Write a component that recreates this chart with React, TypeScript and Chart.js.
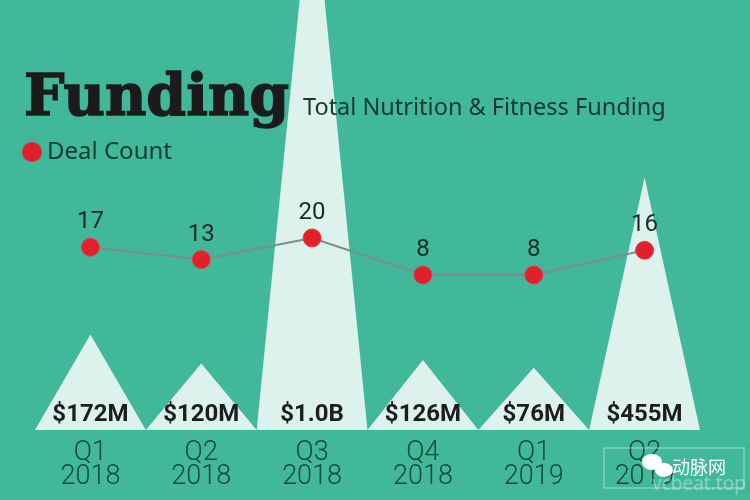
import React, { useEffect, useRef } from "react";
import { Chart, registerables } from "chart.js";

Chart.register(...registerables);

// ---- data ----
const quarters = ["Q1", "Q2", "Q3", "Q4", "Q1", "Q2"];
const years = ["2018", "2018", "2018", "2018", "2019", "2019"];
const fundingLabels = ["$172M", "$120M", "$1.0B", "$126M", "$76M", "$455M"];
// peak heights in $M-equivalent, as drawn in the picture
const peakHeights = [172, 120, 1000, 126, 112, 455];
const dealCounts = [17, 13, 20, 8, 8, 16];

const BG = "#42b89b";
const MINT = "#ddf2ed";

const textPlugin = {
  id: "texts",
  beforeDraw(chart: any) {
    const { ctx, width, height } = chart;
    ctx.save();
    ctx.fillStyle = BG;
    ctx.fillRect(0, 0, width, height);
    ctx.restore();
  },
  afterDatasetsDraw(chart: any) {
    const { ctx, chartArea } = chart;
    const xs = chart.scales.x;
    const bottom = chartArea.bottom;
    ctx.save();
    ctx.textAlign = "center";
    ctx.textBaseline = "middle";

    // funding labels & quarter labels
    quarters.forEach((q, i) => {
      const cx = xs.getPixelForValue(i + 0.5);
      ctx.fillStyle = "#1d1d1d";
      ctx.font = "bold 24px Roboto";
      ctx.fillText(fundingLabels[i], cx, bottom - 15);
      ctx.fillStyle = "#124a3c";
      ctx.font = "300 27px Roboto";
      ctx.fillText(q, cx, bottom + 23);
      ctx.fillText(years[i], cx, bottom + 47);
    });

    // deal count labels
    const meta = chart.getDatasetMeta(1);
    meta.data.forEach((pt: any, i: number) => {
      ctx.fillStyle = "#1b2c27";
      ctx.font = "24px Roboto";
      ctx.fillText(String(dealCounts[i]), pt.x, pt.y - 25);
    });

    // title
    ctx.textAlign = "left";
    ctx.textBaseline = "alphabetic";
    ctx.fillStyle = "#1b1b1b";
    ctx.strokeStyle = "#1b1b1b";
    ctx.lineWidth = 1.5;
    ctx.font = 'bold 57px "DejaVu Serif"';
    ctx.fillText("Funding", 24, 115);
    ctx.strokeText("Funding", 24, 115);
    ctx.fillStyle = "#16382f";
    ctx.font = '23.5px "Noto Sans"';
    ctx.fillText("Total Nutrition & Fitness Funding", 303, 115);

    // legend
    ctx.beginPath();
    ctx.arc(32, 152, 10, 0, Math.PI * 2);
    ctx.fillStyle = "#e2202b";
    ctx.fill();
    ctx.fillStyle = "#0f3a30";
    ctx.font = '24px "Noto Sans"';
    ctx.textBaseline = "middle";
    ctx.fillText("Deal Count", 47, 152);

    // watermark
    ctx.globalAlpha = 0.25;
    ctx.strokeStyle = "#ffffff";
    ctx.lineWidth = 2;
    ctx.strokeRect(604, 448, 140, 40);
    ctx.globalAlpha = 1;
    ctx.fillStyle = "#ffffff";
    ctx.beginPath();
    ctx.ellipse(652, 462, 10, 8, 0, 0, Math.PI * 2);
    ctx.fill();
    ctx.beginPath();
    ctx.ellipse(664, 470, 9, 7, 0, 0, Math.PI * 2);
    ctx.fill();
    ctx.font = '18px "Noto Sans CJK SC"';
    ctx.fillText("动脉网", 672, 467);
    ctx.globalAlpha = 0.35;
    ctx.font = '19px "Noto Sans"';
    ctx.fillText("vcbeat.top", 652, 485);
    ctx.restore();
  },
};

export default function App() {
  const ref = useRef<HTMLCanvasElement | null>(null);

  useEffect(() => {
    if (!ref.current) return;
    const peakPoints: { x: number; y: number }[] = [{ x: 0, y: 0 }];
    peakHeights.forEach((h, i) => {
      peakPoints.push({ x: i + 0.5, y: h });
      peakPoints.push({ x: i + 1, y: 0 });
    });
    const dealPoints = dealCounts.map((v, i) => ({ x: i + 0.5, y: v }));

    const chart = new Chart(ref.current, {
      type: "line",
      data: {
        datasets: [
          {
            data: peakPoints,
            xAxisID: "x",
            yAxisID: "y",
            fill: "origin",
            backgroundColor: MINT,
            borderWidth: 0,
            borderColor: MINT,
            pointRadius: 0,
            tension: 0,
            order: 2,
          },
          {
            data: dealPoints,
            xAxisID: "x",
            yAxisID: "y2",
            fill: false,
            borderColor: "#7d8d88",
            borderWidth: 2,
            pointRadius: 9,
            pointBackgroundColor: "#e2202b",
            pointBorderColor: "#ea3b44",
            pointBorderWidth: 1,
            tension: 0,
            order: 1,
            clip: false as any,
          },
        ],
      },
      options: {
        responsive: false,
        animation: false,
        devicePixelRatio: 1,
        layout: { autoPadding: false, padding: { left: 35, right: 50, top: 0, bottom: 70 } },
        scales: {
          x: { type: "linear", min: 0, max: 6, display: false },
          y: { type: "linear", min: 0, max: 775, display: false },
          y2: { type: "linear", min: -42.3, max: 97.2, display: false },
        },
        plugins: {
          legend: { display: false },
          tooltip: { enabled: false },
        },
        events: [],
      },
      plugins: [textPlugin],
    });
    return () => chart.destroy();
  }, []);

  return (
    <div style={{ position: "fixed", left: 0, top: 0, width: 750, height: 500 }}>
      <canvas ref={ref} width={750} height={500} style={{ display: "block" }} />
    </div>
  );
}
